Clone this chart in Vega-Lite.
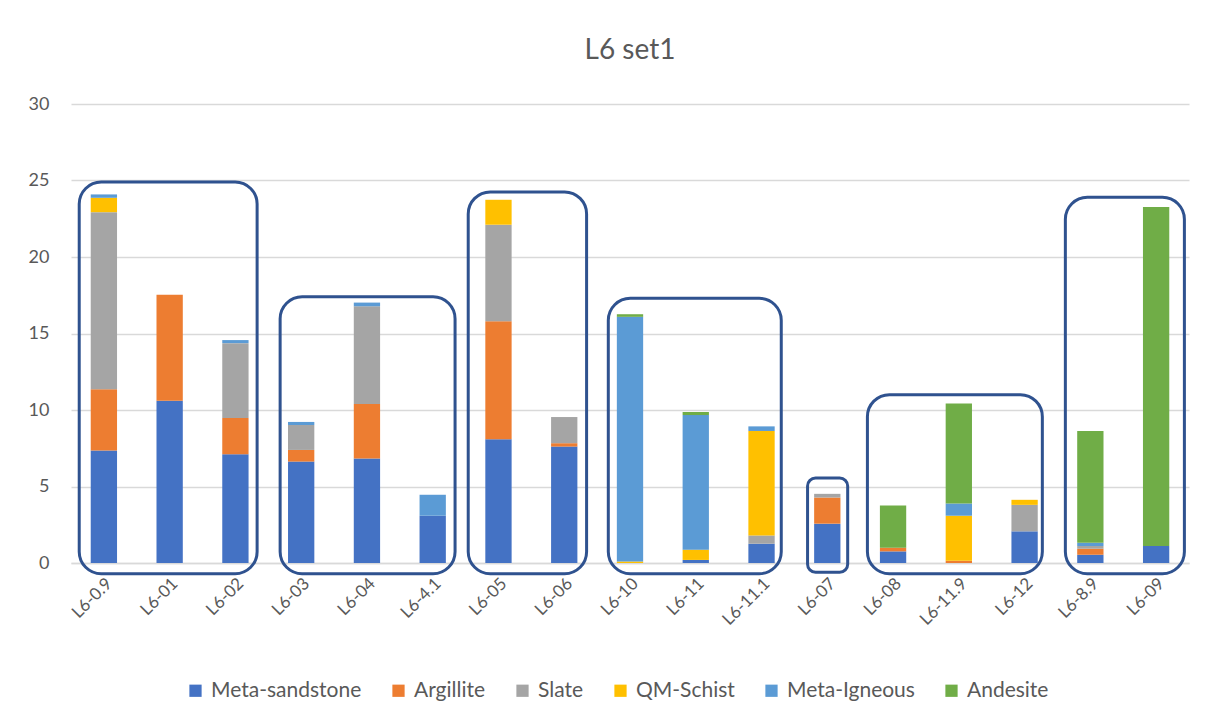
{
  "$schema": "https://vega.github.io/schema/vega-lite/v6.json",
  "width": 1118,
  "height": 459,
  "autosize": {"type": "none"},
  "padding": {"left": 71, "top": 104, "right": 20, "bottom": 163},
  "background": "white",
  "title": {
    "text": "L6 set1",
    "font": "Lato",
    "fontSize": 28,
    "fontWeight": "normal",
    "color": "#595959",
    "anchor": "middle",
    "offset": 30
  },
  "config": {
    "view": {"stroke": null},
    "font": "Lato"
  },
  "datasets": {
    "rock": [
      {"sample": "L6-0.9", "type": "Meta-sandstone", "pct": 7.35},
      {"sample": "L6-0.9", "type": "Argillite", "pct": 4.0},
      {"sample": "L6-0.9", "type": "Slate", "pct": 11.58},
      {"sample": "L6-0.9", "type": "QM-Schist", "pct": 0.94},
      {"sample": "L6-0.9", "type": "Meta-Igneous", "pct": 0.22},
      {"sample": "L6-01", "type": "Meta-sandstone", "pct": 10.61},
      {"sample": "L6-01", "type": "Argillite", "pct": 6.93},
      {"sample": "L6-02", "type": "Meta-sandstone", "pct": 7.11},
      {"sample": "L6-02", "type": "Argillite", "pct": 2.37},
      {"sample": "L6-02", "type": "Slate", "pct": 4.89},
      {"sample": "L6-02", "type": "Meta-Igneous", "pct": 0.2},
      {"sample": "L6-03", "type": "Meta-sandstone", "pct": 6.63},
      {"sample": "L6-03", "type": "Argillite", "pct": 0.76},
      {"sample": "L6-03", "type": "Slate", "pct": 1.63},
      {"sample": "L6-03", "type": "Meta-Igneous", "pct": 0.2},
      {"sample": "L6-04", "type": "Meta-sandstone", "pct": 6.83},
      {"sample": "L6-04", "type": "Argillite", "pct": 3.56},
      {"sample": "L6-04", "type": "Slate", "pct": 6.39},
      {"sample": "L6-04", "type": "Meta-Igneous", "pct": 0.24},
      {"sample": "L6-4.1", "type": "Meta-sandstone", "pct": 3.09},
      {"sample": "L6-4.1", "type": "Meta-Igneous", "pct": 1.37},
      {"sample": "L6-05", "type": "Meta-sandstone", "pct": 8.09},
      {"sample": "L6-05", "type": "Argillite", "pct": 7.71},
      {"sample": "L6-05", "type": "Slate", "pct": 6.31},
      {"sample": "L6-05", "type": "QM-Schist", "pct": 1.63},
      {"sample": "L6-06", "type": "Meta-sandstone", "pct": 7.61},
      {"sample": "L6-06", "type": "Argillite", "pct": 0.22},
      {"sample": "L6-06", "type": "Slate", "pct": 1.71},
      {"sample": "L6-10", "type": "QM-Schist", "pct": 0.1},
      {"sample": "L6-10", "type": "Meta-Igneous", "pct": 15.99},
      {"sample": "L6-10", "type": "Andesite", "pct": 0.17},
      {"sample": "L6-11", "type": "Meta-sandstone", "pct": 0.2},
      {"sample": "L6-11", "type": "QM-Schist", "pct": 0.67},
      {"sample": "L6-11", "type": "Meta-Igneous", "pct": 8.8},
      {"sample": "L6-11", "type": "Andesite", "pct": 0.2},
      {"sample": "L6-11.1", "type": "Meta-sandstone", "pct": 1.26},
      {"sample": "L6-11.1", "type": "Slate", "pct": 0.54},
      {"sample": "L6-11.1", "type": "QM-Schist", "pct": 6.83},
      {"sample": "L6-11.1", "type": "Meta-Igneous", "pct": 0.3},
      {"sample": "L6-07", "type": "Meta-sandstone", "pct": 2.57},
      {"sample": "L6-07", "type": "Argillite", "pct": 1.71},
      {"sample": "L6-07", "type": "Slate", "pct": 0.24},
      {"sample": "L6-08", "type": "Meta-sandstone", "pct": 0.76},
      {"sample": "L6-08", "type": "Argillite", "pct": 0.24},
      {"sample": "L6-08", "type": "Andesite", "pct": 2.76},
      {"sample": "L6-11.9", "type": "Argillite", "pct": 0.15},
      {"sample": "L6-11.9", "type": "QM-Schist", "pct": 2.94},
      {"sample": "L6-11.9", "type": "Meta-Igneous", "pct": 0.8},
      {"sample": "L6-11.9", "type": "Andesite", "pct": 6.54},
      {"sample": "L6-12", "type": "Meta-sandstone", "pct": 2.07},
      {"sample": "L6-12", "type": "Slate", "pct": 1.73},
      {"sample": "L6-12", "type": "QM-Schist", "pct": 0.33},
      {"sample": "L6-8.9", "type": "Meta-sandstone", "pct": 0.54},
      {"sample": "L6-8.9", "type": "Argillite", "pct": 0.39},
      {"sample": "L6-8.9", "type": "Slate", "pct": 0.18},
      {"sample": "L6-8.9", "type": "Meta-Igneous", "pct": 0.22},
      {"sample": "L6-8.9", "type": "Andesite", "pct": 7.3},
      {"sample": "L6-09", "type": "Meta-sandstone", "pct": 1.11},
      {"sample": "L6-09", "type": "Andesite", "pct": 22.15}
    ],
    "series": [
      {"type": "Meta-sandstone", "rank": 1},
      {"type": "Argillite", "rank": 2},
      {"type": "Slate", "rank": 3},
      {"type": "QM-Schist", "rank": 4},
      {"type": "Meta-Igneous", "rank": 5},
      {"type": "Andesite", "rank": 6}
    ],
    "groups": [
      {"group": "A", "from": 0.125, "to": 2.83, "low": -0.7, "high": 24.9},
      {"group": "B", "from": 3.18, "to": 5.84, "low": -0.7, "high": 17.4},
      {"group": "C", "from": 6.04, "to": 7.84, "low": -0.7, "high": 24.25},
      {"group": "D", "from": 8.17, "to": 10.8, "low": -0.7, "high": 17.3},
      {"group": "E", "from": 11.2, "to": 11.81, "low": -0.6, "high": 5.55},
      {"group": "F", "from": 12.11, "to": 14.77, "low": -0.7, "high": 11.0},
      {"group": "G", "from": 15.12, "to": 16.93, "low": -0.7, "high": 23.9}
    ]
  },
  "layer": [
    {
      "data": {"name": "rock"},
      "transform": [
        {"lookup": "type", "from": {"data": {"name": "series"}, "key": "type", "fields": ["rank"]}}
      ],
      "mark": {"type": "bar"},
      "encoding": {
        "x": {
          "field": "sample",
          "type": "nominal",
          "sort": ["L6-0.9", "L6-01", "L6-02", "L6-03", "L6-04", "L6-4.1", "L6-05", "L6-06", "L6-10", "L6-11", "L6-11.1", "L6-07", "L6-08", "L6-11.9", "L6-12", "L6-8.9", "L6-09"],
          "scale": {"paddingInner": 0.6, "paddingOuter": 0.3},
          "axis": {
            "title": null,
            "labelAngle": -45,
            "labelFontSize": 17,
            "labelColor": "#595959",
            "labelFont": "Lato",
            "ticks": false,
            "domainColor": "#d9d9d9",
            "domainWidth": 1.3,
            "labelPadding": 12
          }
        },
        "y": {
          "field": "pct",
          "type": "quantitative",
          "stack": "zero",
          "scale": {"domain": [0, 30], "nice": false},
          "axis": {
            "title": null,
            "values": [0, 5, 10, 15, 20, 25, 30],
            "domain": false,
            "ticks": false,
            "gridColor": "#d9d9d9",
            "gridWidth": 1.3,
            "labelFontSize": 18,
            "labelColor": "#595959",
            "labelFont": "Lato",
            "labelPadding": 22
          }
        },
        "order": {"field": "rank", "type": "quantitative", "sort": "ascending"},
        "color": {
          "field": "type",
          "type": "nominal",
          "scale": {
            "domain": ["Meta-sandstone", "Argillite", "Slate", "QM-Schist", "Meta-Igneous", "Andesite"],
            "range": ["#4472C4", "#ED7D31", "#A5A5A5", "#FFC000", "#5B9BD5", "#70AD47"]
          },
          "legend": {
            "title": null,
            "orient": "none",
            "legendX": 114,
            "legendY": 576,
            "direction": "horizontal",
            "symbolType": "square",
            "symbolSize": 150,
            "symbolStrokeWidth": 0,
            "labelFontSize": 21,
            "labelColor": "#595959",
            "labelFont": "Lato",
            "labelOffset": 5,
            "columnPadding": 26
          }
        }
      }
    },
    {
      "data": {"name": "groups"},
      "mark": {"type": "rect", "fill": null, "stroke": "#2F528F", "strokeWidth": 3, "cornerRadius": 22},
      "transform": [{"filter": "datum.group != 'E'"}],
      "encoding": {
        "x": {"field": "from", "type": "quantitative", "scale": {"domain": [0, 17], "nice": false, "zero": false}, "axis": null},
        "x2": {"field": "to"},
        "y": {"field": "low", "type": "quantitative"},
        "y2": {"field": "high"}
      }
    },
    {
      "data": {"name": "groups"},
      "mark": {"type": "rect", "fill": null, "stroke": "#2F528F", "strokeWidth": 3, "cornerRadius": 8},
      "transform": [{"filter": "datum.group == 'E'"}],
      "encoding": {
        "x": {"field": "from", "type": "quantitative", "scale": {"domain": [0, 17], "nice": false, "zero": false}, "axis": null},
        "x2": {"field": "to"},
        "y": {"field": "low", "type": "quantitative"},
        "y2": {"field": "high"}
      }
    }
  ],
  "resolve": {"scale": {"x": "independent"}}
}
